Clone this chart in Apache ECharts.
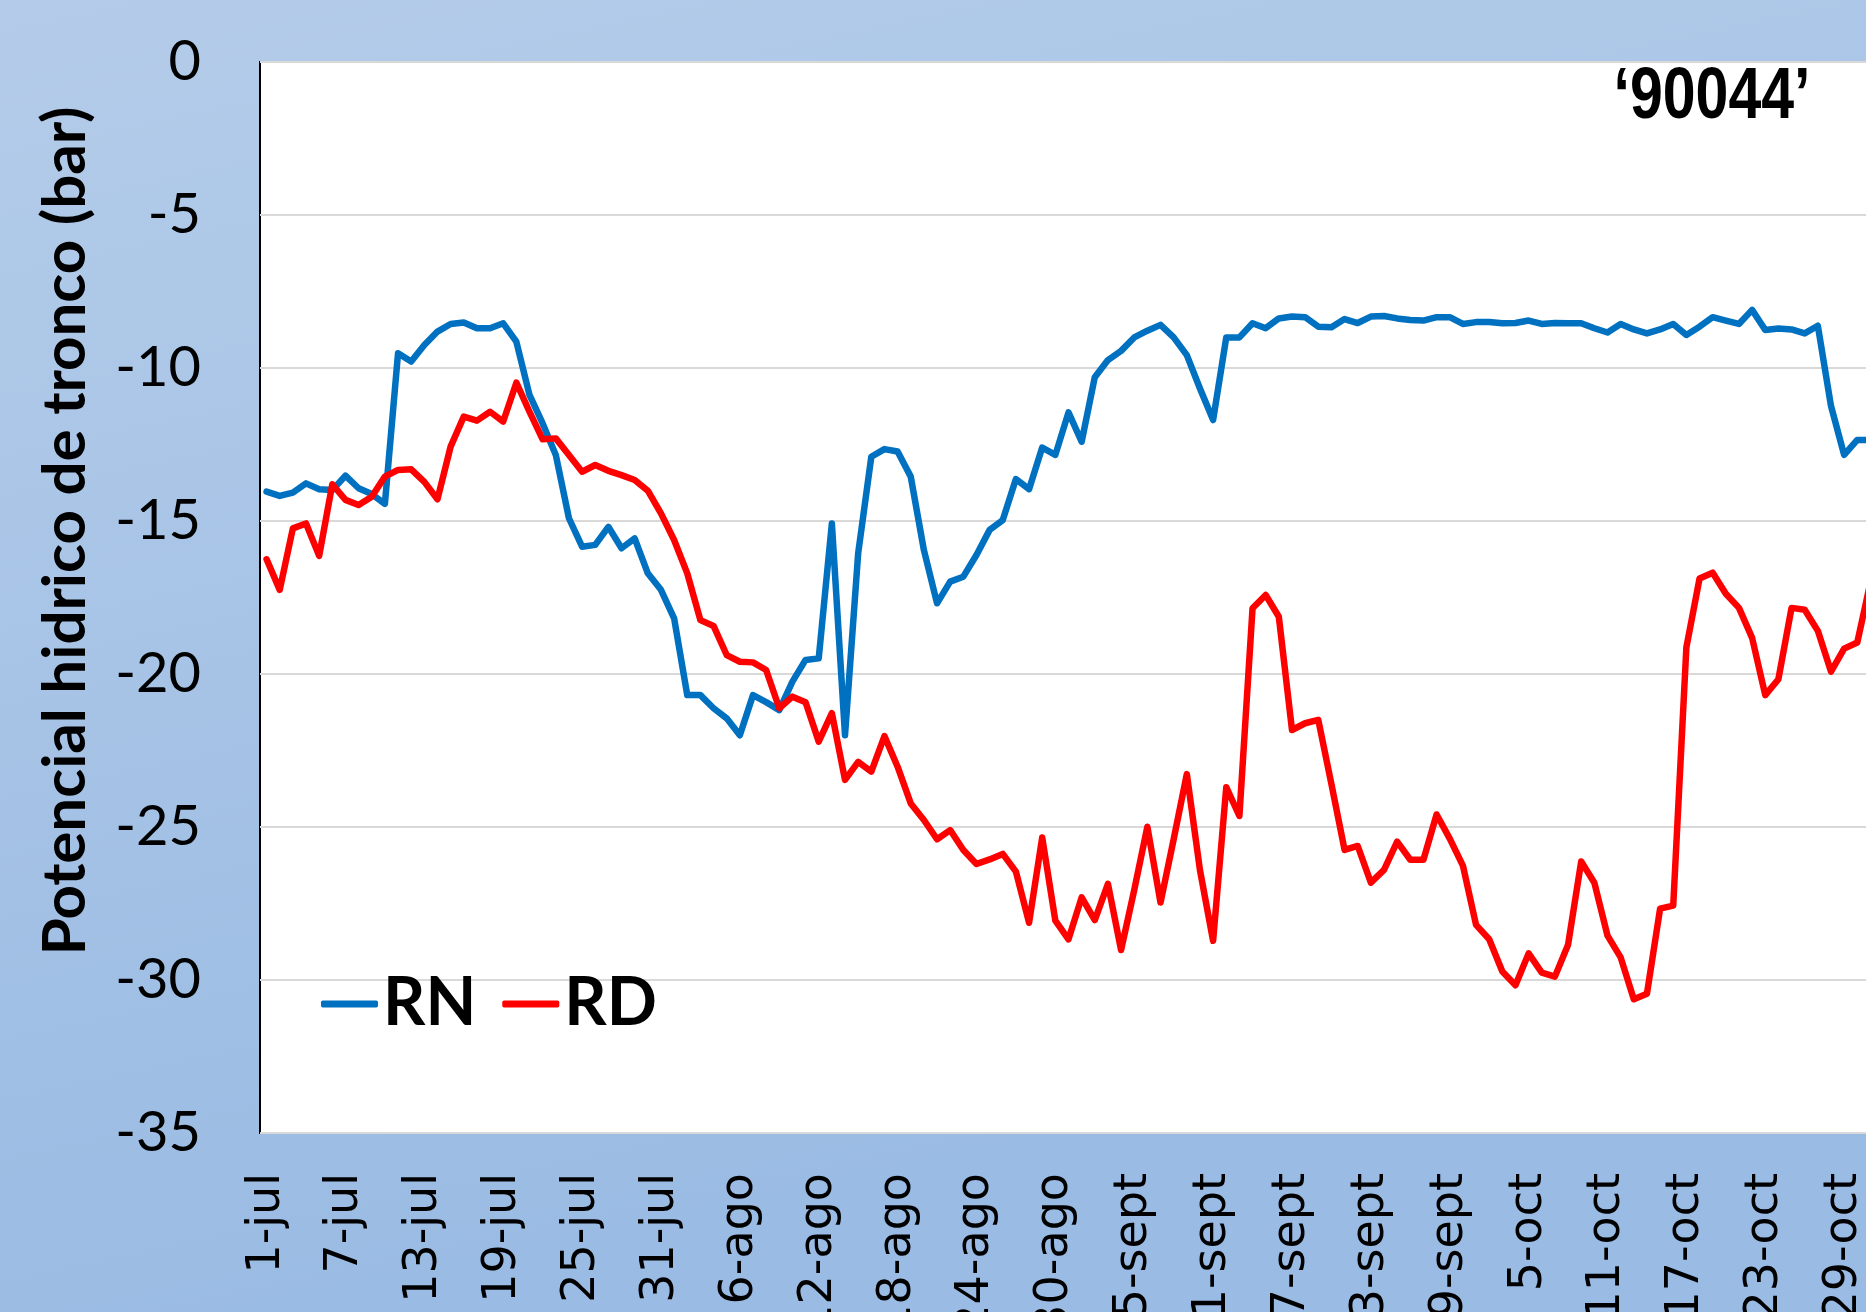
<!DOCTYPE html>
<html lang="es">

<head>
    <meta charset="UTF-8">
    <title>Potencial hidrico de tronco - 90044</title>
    <script src="https://cdn.jsdelivr.net/npm/echarts@6/dist/echarts.min.js"></script>
    <style>
        html, body { margin: 0; padding: 0; }
        #chart { width: 1866px; height: 1312px; }
    </style>
</head>

<body>
    <div id="chart"></div>
    <script>
        // meses y dias (1-jul ... 31-oct)
        var monthNames = ['jul', 'ago', 'sept', 'oct'];
        var monthDays = [31, 31, 30, 31];

        var yTicks = { min: -35, max: 0, step: 5 };

        // RN - riego normal
        var rn = [-14.04, -14.18, -14.07, -13.77, -13.96, -13.99, -13.52, -13.93, -14.12, -14.44,
            -9.52, -9.79, -9.25, -8.81, -8.56, -8.51, -8.70, -8.70, -8.54, -9.14,
            -10.88, -11.81, -12.84, -14.91, -15.84, -15.78, -15.19, -15.89, -15.57, -16.71,
            -17.25, -18.18, -20.69, -20.69, -21.12, -21.45, -22.00, -20.69, -20.92, -21.18,
            -20.25, -19.54, -19.49, -15.08, -22.00, -16.06, -12.90, -12.65, -12.73, -13.55,
            -15.95, -17.69, -16.98, -16.82, -16.11, -15.29, -14.97, -13.63, -13.96, -12.60,
            -12.84, -11.45, -12.41, -10.30, -9.74, -9.44, -9.00, -8.78, -8.59, -9.00,
            -9.58, -10.67, -11.70, -9.00, -9.00, -8.54, -8.70, -8.38, -8.32, -8.34,
            -8.65, -8.67, -8.40, -8.53, -8.32, -8.30, -8.38, -8.43, -8.45, -8.34,
            -8.34, -8.56, -8.50, -8.50, -8.54, -8.53, -8.45, -8.56, -8.53, -8.54,
            -8.54, -8.70, -8.84, -8.56, -8.74, -8.87, -8.74, -8.56, -8.92, -8.65,
            -8.34, -8.45, -8.56, -8.10, -8.76, -8.71, -8.74, -8.87, -8.62, -11.24,
            -12.84, -12.35, -12.35];

        // RD - riego deficitario
        var rd = [-16.25, -17.25, -15.24, -15.08, -16.14, -13.80, -14.31, -14.48, -14.21, -13.55,
            -13.33, -13.31, -13.72, -14.29, -12.57, -11.59, -11.72, -11.43, -11.75, -10.48,
            -11.43, -12.33, -12.30, -12.84, -13.39, -13.17, -13.36, -13.50, -13.66, -14.01,
            -14.75, -15.62, -16.71, -18.24, -18.43, -19.38, -19.60, -19.62, -19.87, -21.12,
            -20.74, -20.92, -22.21, -21.28, -23.46, -22.87, -23.19, -22.03, -23.03, -24.23,
            -24.77, -25.40, -25.10, -25.75, -26.21, -26.06, -25.88, -26.46, -28.13, -25.34,
            -28.06, -28.67, -27.30, -28.04, -26.86, -29.02, -27.06, -24.99, -27.47, -25.40,
            -23.27, -26.41, -28.72, -23.70, -24.64, -17.85, -17.42, -18.13, -21.83, -21.61,
            -21.50, -23.60, -25.75, -25.62, -26.82, -26.40, -25.48, -26.07, -26.07, -24.59,
            -25.38, -26.26, -28.20, -28.67, -29.72, -30.17, -29.13, -29.76, -29.89, -28.85,
            -26.13, -26.82, -28.55, -29.26, -30.63, -30.45, -27.67, -27.57, -19.13, -16.88,
            -16.69, -17.38, -17.84, -18.82, -20.69, -20.17, -17.84, -17.90, -18.59, -19.92,
            -19.17, -18.97, -17.00];

        var dates = [];
        for (var m = 0; m < monthNames.length; m++) {
            for (var d = 1; d <= monthDays[m]; d++) {
                dates.push(d + '-' + monthNames[m]);
            }
        }

        var myChart = echarts.init(document.getElementById('chart'));

        var options = {
            animation: false,
            backgroundColor: new echarts.graphic.LinearGradient(0, 0, 0.15, 1, [
                { offset: 0, color: '#b4cce9' },
                { offset: 1, color: '#9abbe3' }
            ]),
            grid: {
                left: 260,
                top: 62,
                right: -11,
                bottom: 179,
                show: true,
                backgroundColor: '#ffffff',
                borderColor: '#000000',
                borderWidth: 2,
                containLabel: false,
                outerBoundsMode: 'none'
            },
            legend: {
                left: 316,
                top: 964,
                icon: 'roundRect',
                itemWidth: 57,
                itemHeight: 7,
                itemGap: 26,
                textStyle: {
                    fontFamily: 'Lato',
                    fontWeight: 'bold',
                    fontSize: 66,
                    lineHeight: 70,
                    color: '#000000'
                },
                data: ['RN', 'RD']
            },
            xAxis: {
                type: 'category',
                boundaryGap: true,
                data: dates,
                axisLine: { show: false },
                axisTick: { show: false },
                splitLine: { show: false },
                axisLabel: {
                    interval: 5,
                    rotate: 90,
                    margin: 40,
                    fontFamily: 'DejaVu Sans',
                    fontSize: 46,
                    color: '#000000'
                }
            },
            yAxis: {
                type: 'value',
                min: yTicks.min,
                max: yTicks.max,
                interval: yTicks.step,
                axisLine: { show: false },
                axisTick: { show: false },
                splitLine: {
                    lineStyle: { color: '#d9d9d9', width: 2 }
                },
                axisLabel: {
                    margin: 59,
                    fontFamily: 'Lato',
                    fontSize: 56,
                    color: '#000000'
                }
            },
            graphic: [{
                    type: 'text',
                    x: 66,
                    y: 531,
                    rotation: Math.PI / 2,
                    style: {
                        text: 'Potencial hidrico de tronco (bar)',
                        fontFamily: 'Lato',
                        fontWeight: 'bold',
                        fontSize: 60,
                        fill: '#000000',
                        align: 'center',
                        verticalAlign: 'middle'
                    }
                },
                {
                    type: 'text',
                    x: 1712,
                    y: 98,
                    scaleX: 0.82,
                    style: {
                        text: '\u201890044\u2019',
                        fontFamily: 'Liberation Sans',
                        fontWeight: 'bold',
                        fontSize: 72,
                        fill: '#000000',
                        align: 'center',
                        verticalAlign: 'middle'
                    }
                }
            ],
            series: [{
                    name: 'RN',
                    type: 'line',
                    data: rn,
                    symbol: 'none',
                    color: '#0070c0',
                    lineStyle: { width: 6.5, cap: 'round', join: 'round' }
                },
                {
                    name: 'RD',
                    type: 'line',
                    data: rd,
                    symbol: 'none',
                    color: '#ff0000',
                    lineStyle: { width: 6.5, cap: 'round', join: 'round' }
                }
            ]
        };

        myChart.setOption(options);
    </script>
</body>

</html>
